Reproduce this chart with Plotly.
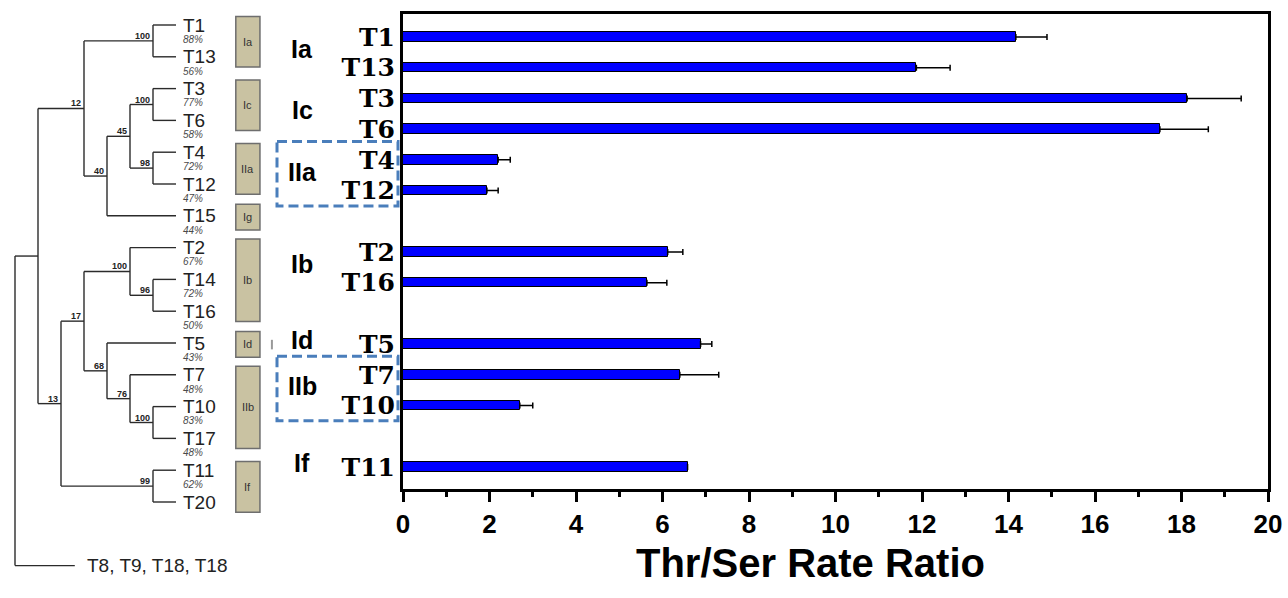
import plotly.graph_objects as go

# ---------------- data: bar chart ----------------
strains = ["T1", "T13", "T3", "T6", "T4", "T12", "T2", "T16", "T5", "T7", "T10", "T11"]
ratio = [14.17, 11.87, 18.13, 17.50, 2.20, 1.94, 6.12, 5.64, 6.88, 6.40, 2.70, 6.58]
ratio_err = [0.72, 0.78, 1.25, 1.12, 0.28, 0.26, 0.35, 0.46, 0.26, 0.90, 0.30, None]
# rows along the bar axis (None = empty row)
bar_groups = [("Ia", ["T1", "T13"]), ("Ic", ["T3", "T6"]), ("IIa", ["T4", "T12"]), None,
              ("Ib", ["T2", "T16"]), None, ("Id", ["T5"]), ("IIb", ["T7", "T10"]), None,
              ("If", ["T11"])]
boxed_groups = ["IIa", "IIb"]
x_ticks = [0, 2, 4, 6, 8, 10, 12, 14, 16, 18, 20]
x_title = "Thr/Ser Rate Ratio"

# ---------------- data: dendrogram ----------------
leaf_order = ["T1", "T13", "T3", "T6", "T4", "T12", "T15", "T2", "T14", "T16",
              "T5", "T7", "T10", "T17", "T11", "T20"]
leaf_similarity = ["88%", "56%", "77%", "58%", "72%", "47%", "44%", "67%", "72%", "50%",
                   "43%", "48%", "83%", "48%", "62%", None]
outgroup = "T8, T9, T18, T18"
outgroup_level = 4.4
# node = (level, bootstrap, children); leaves are names
tree = (7, None, [
    (6, None, [
        (4, 12, [(1, 100, ["T1", "T13"]),
                 (3, 40, [(2, 45, [(1, 100, ["T3", "T6"]), (1, 98, ["T4", "T12"])]), "T15"])]),
        (5, 13, [(4, 17, [(2, 100, ["T2", (1, 96, ["T14", "T16"])]),
                          (3, 68, ["T5", (2, 76, ["T7", (1, 100, ["T10", "T17"])])])]),
                 (1, 99, ["T11", "T20"])])]),
    outgroup])
clades = [("Ia", ["T1", "T13"]), ("Ic", ["T3", "T6"]), ("IIa", ["T4", "T12"]), ("Ig", ["T15"]),
          ("Ib", ["T2", "T14", "T16"]), ("Id", ["T5"]), ("IIb", ["T7", "T10", "T17"]),
          ("If", ["T11", "T20"])]

# ---------------- layout constants ----------------
W, H = 1288, 598
PX_L, PX_R, PX_T, PX_B = 403, 1268, 14, 489
Y_RANGE = [14.72, -0.75]

BLUE_DASH = "#4a7ebb"
LINE_C = "#2b2b2b"

# slots for bars
slot_of = {}
s = 0
for g in bar_groups:
    if g is None:
        s += 1
        continue
    for name in g[1]:
        slot_of[name] = s
        s += 1
slots = [slot_of[n] for n in strains]


def slot_to_paper(v):
    frac = (v - Y_RANGE[1]) / (Y_RANGE[0] - Y_RANGE[1])
    px = PX_T + frac * (PX_B - PX_T)
    return 1 - px / H


fig = go.Figure()

fig.add_trace(go.Bar(
    x=ratio, y=slots, orientation="h", width=0.31,
    marker=dict(color="#0000ff", line=dict(color="black", width=1)),
    error_x=dict(type="data", symmetric=False, array=ratio_err,
                 arrayminus=[0] * len(ratio), color="black", thickness=1.5, width=3),
    xaxis="x", yaxis="y", showlegend=False, hoverinfo="x+y",
))

# ---------------- dendrogram ----------------
row_of = {n: i for i, n in enumerate(leaf_order)}
row_of[outgroup] = len(leaf_order) + 1

lx, ly = [], []
boot = []


def walk(node):
    """returns (level, y) of node"""
    if isinstance(node, str):
        lvl = outgroup_level if node == outgroup else 0
        return lvl, row_of[node]
    level, support, children = node
    pts = [walk(c) for c in children]
    ys = [p[1] for p in pts]
    lx.extend([level, level, None])
    ly.extend([min(ys), max(ys), None])
    for (cl, cy) in pts:
        lx.extend([level, cl, None])
        ly.extend([cy, cy, None])
    y = sum(ys) / len(ys)
    if support is not None:
        boot.append((level, y, support))
    return level, y


walk(tree)

fig.add_trace(go.Scatter(
    x=lx, y=ly, mode="lines", line=dict(color=LINE_C, width=1.4),
    xaxis="x2", yaxis="y2", showlegend=False, hoverinfo="skip",
))

annotations = []
shapes = []

for name, i in row_of.items():
    annotations.append(dict(
        x=(outgroup_level - 0.45) if name == outgroup else -0.2, y=i, xref="x2", yref="y2",
        text=name, showarrow=False, xanchor="left", yanchor="middle",
        font=dict(family="Liberation Sans", size=19, color="#222"),
    ))

for name, pct in zip(leaf_order, leaf_similarity):
    if pct is None:
        continue
    annotations.append(dict(
        x=-0.74, y=row_of[name] + 0.45, xref="x2", yref="y2", text=pct,
        showarrow=False, xanchor="center", yanchor="middle",
        font=dict(family="Liberation Sans", size=10, color="#4a4a4a", style="italic"),
    ))

for level, y, support in boot:
    annotations.append(dict(
        x=level, y=y, xref="x2", yref="y2", text=str(support), showarrow=False,
        xanchor="right", yanchor="bottom", xshift=-1, yshift=-2,
        font=dict(family="Liberation Sans", size=9, color="#222", weight="bold"),
    ))

for label, members in clades:
    rows = [row_of[m] for m in members]
    if len(rows) == 1:
        y0, y1 = rows[0] - 0.36, rows[0] + 0.45
    else:
        y0, y1 = min(rows) - 0.27, max(rows) + 0.32
    shapes.append(dict(type="rect", xref="x2", yref="y2", x0=-2.6, x1=-3.65, y0=y0, y1=y1,
                       fillcolor="#c9c2a2", line=dict(color="#6e6e6e", width=1.5), layer="above"))
    annotations.append(dict(
        x=-3.125, y=(y0 + y1) / 2, xref="x2", yref="y2", text=label, showarrow=False,
        xanchor="center", yanchor="middle",
        font=dict(family="Liberation Sans", size=11, color="#333"),
    ))
    if label == "Id":
        shapes.append(dict(type="line", xref="x2", yref="y2", x0=-4.17, x1=-4.17,
                           y0=rows[0] - 0.1, y1=rows[0] + 0.2,
                           line=dict(color="#999", width=2)))

# ---------------- group labels & dashed boxes on the bar axis ----------------
for g in bar_groups:
    if g is None:
        continue
    label, members = g
    ss = [slot_of[m] for m in members]
    centre = (min(ss) + max(ss)) / 2 - 0.12
    annotations.append(dict(
        x=302 / W, y=slot_to_paper(centre), xref="paper", yref="paper", text=label,
        showarrow=False, xanchor="center", yanchor="middle",
        font=dict(family="Liberation Sans", size=25, color="black", weight="bold"),
    ))
    if label in boxed_groups:
        shapes.append(dict(type="rect", xref="paper", yref="paper",
                           x0=277 / W, x1=398 / W,
                           y0=slot_to_paper(min(ss) - 0.6), y1=slot_to_paper(max(ss) + 0.5),
                           line=dict(color=BLUE_DASH, width=3, dash="10px,5px"),
                           fillcolor="rgba(0,0,0,0)"))

annotations.append(dict(
    x=810 / W, y=1 - 563 / H, xref="paper", yref="paper", text=x_title, showarrow=False,
    xanchor="center", yanchor="middle",
    font=dict(family="Liberation Sans", size=40, color="black", weight="bold"),
))

fig.update_layout(
    width=W, height=H, margin=dict(l=0, r=0, t=0, b=0, autoexpand=False),
    paper_bgcolor="white", plot_bgcolor="rgba(0,0,0,0)",
    bargap=0,
    xaxis=dict(
        domain=[PX_L / W, PX_R / W], range=[0, 20], anchor="y", automargin=False,
        tickvals=x_ticks, ticks="outside", ticklen=10, tickwidth=3, tickcolor="black",
        minor=dict(dtick=1, ticks="outside", ticklen=5, tickwidth=3, tickcolor="black"),
        showline=True, linewidth=3, linecolor="black", mirror=True,
        showgrid=False, zeroline=False,
        tickfont=dict(family="Liberation Sans", size=26, color="black", weight="bold"),
    ),
    yaxis=dict(
        domain=[1 - PX_B / H, 1 - PX_T / H], range=Y_RANGE, anchor="x", automargin=False,
        tickvals=slots, ticktext=strains, ticks="",
        showline=True, linewidth=3, linecolor="black", mirror=True,
        showgrid=False, zeroline=False, ticklabelstandoff=0,
        tickfont=dict(family="DejaVu Serif", size=25, color="black", weight="bold"),
    ),
    xaxis2=dict(domain=[0, 290 / W], range=[176 / 23, (176 - 290) / 23], anchor="y2",
                visible=False, showgrid=False, zeroline=False, automargin=False),
    yaxis2=dict(domain=[0, 1], range=[(H - 25) / 31.8, -25 / 31.8], anchor="x2",
                visible=False, showgrid=False, zeroline=False, automargin=False),
    annotations=annotations,
    shapes=shapes,
)

fig.write_html(
    "out.html",
    config={"displayModeBar": False},
    post_script="document.body.style.margin='0';document.body.style.overflow='hidden';",
)
